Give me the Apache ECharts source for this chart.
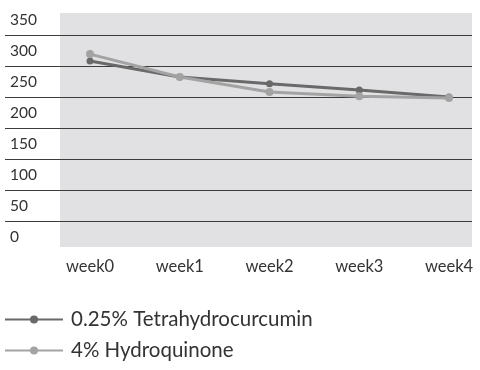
<!DOCTYPE html>
<html><head><meta charset="utf-8">
<script src="https://cdn.jsdelivr.net/npm/echarts@6/dist/echarts.min.js"></script>
<style>html,body{margin:0;padding:0;background:#fff}#c{width:480px;height:370px}</style>
</head><body><div id="c"></div>
<script>
var categories = ['week0', 'week1', 'week2', 'week3', 'week4'];
var thc = [284, 258, 247, 237, 226];
var hq = [295, 258, 234, 227, 224];
var seriesNames = ['0.25% Tetrahydrocurcumin', '4% Hydroquinone'];
var yTicks = [0, 50, 100, 150, 200, 250, 300, 350];

var chart = echarts.init(document.getElementById('c'), null, {renderer: 'canvas'});
var font = 'Lato, "Open Sans", sans-serif';
var lineColors = ['rgba(0,0,0,0)'];
for (var i = 0; i < 7; i++) lineColors.push('#3c3c3c');
lineColors.push('rgba(0,0,0,0)');

chart.setOption({
  animation: false,
  textStyle: {fontFamily: font},
  graphic: [{type: 'rect', z: -10, shape: {x: 60, y: 13, width: 412, height: 234}, style: {fill: '#e1e1e3'}}],
  grid: [
    {left: 90, right: 31, top: 20, bottom: 133},
    {left: 5, right: 8, top: 4.5, bottom: 117.5}
  ],
  xAxis: [
    {type: 'category', data: categories, boundaryGap: false, gridIndex: 0,
     axisLine: {show: false}, axisTick: {show: false},
     axisLabel: {margin: 21, fontSize: 16.5, color: '#333', fontFamily: font}},
    {type: 'value', gridIndex: 1, show: false}
  ],
  yAxis: [
    {type: 'value', gridIndex: 0, min: yTicks[0], max: yTicks[yTicks.length - 1], interval: 50,
     axisLine: {show: false}, axisTick: {show: false}, splitLine: {show: false},
     axisLabel: {align: 'left', margin: 80, fontSize: 15.5, color: '#333', fontFamily: font}},
    {type: 'value', gridIndex: 1, min: -25, max: 375, interval: 50,
     axisLine: {show: false}, axisTick: {show: false}, axisLabel: {show: false},
     splitLine: {show: true, lineStyle: {color: lineColors, width: 1.2}}}
  ],
  legend: {
    orient: 'vertical', left: -1, top: 304, itemWidth: 58, itemHeight: 10, itemGap: 10,
    textStyle: {fontSize: 20.5, color: '#333', fontFamily: font, padding: [0, 0, 0, 3]},
    data: seriesNames
  },
  series: [
    {name: seriesNames[0], type: 'line', data: thc, xAxisIndex: 0, yAxisIndex: 0,
     symbol: 'circle', symbolSize: 7, color: '#696969',
     lineStyle: {width: 3, color: '#696969'}, itemStyle: {color: '#696969'}},
    {name: seriesNames[1], type: 'line', data: hq, xAxisIndex: 0, yAxisIndex: 0,
     symbol: 'circle', symbolSize: 8, color: '#a3a3a3',
     lineStyle: {width: 3, color: '#a3a3a3'}, itemStyle: {color: '#a3a3a3'}}
  ]
});
</script></body></html>
